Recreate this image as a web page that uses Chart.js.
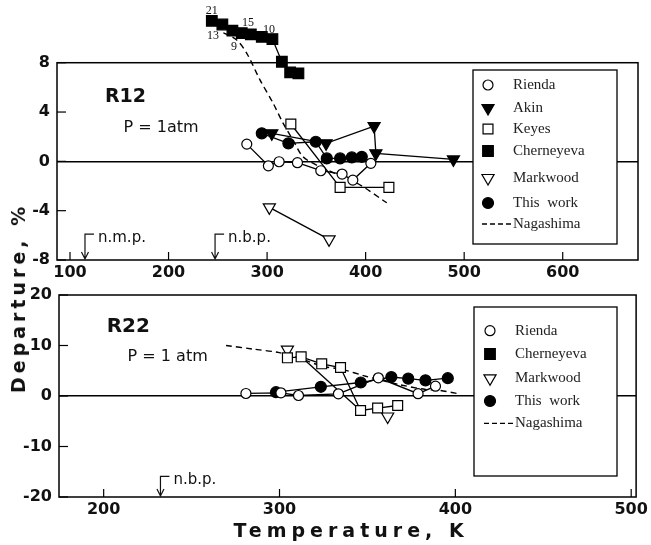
<!DOCTYPE html>
<html>
<head>
<meta charset="utf-8">
<script src="https://cdn.jsdelivr.net/npm/chart.js@4.4.1/dist/chart.umd.min.js"></script>
<style>
body { margin: 0; background: #fff; }
#wrap { position: relative; width: 651px; height: 545px; overflow: hidden; }
canvas { position: absolute; left: 0; }
.title { position: absolute; font-family: "DejaVu Sans"; font-weight: bold; white-space: nowrap; color: #111; }
#ytitle { left: 18px; top: 298px; font-size: 19px; letter-spacing: 4px; transform: translate(-50%, -50%) rotate(-90deg); }
#xtitle { left: 351px; top: 530px; font-size: 19px; letter-spacing: 5px; transform: translate(-50%, -50%); }
</style>
</head>
<body>
<div id="wrap">
	<canvas id="r12" width="651" height="290" style="top:0"></canvas>
	<canvas id="r22" width="651" height="263" style="top:282px"></canvas>
	<div class="title" id="ytitle">Departure, %</div>
	<div class="title" id="xtitle">Temperature, K</div>
</div>
<script>
// ---- R12 panel, [temperature K, departure %] ----
var r12Rienda = [[279.4,1.4],[301.3,-0.36],[312.2,-0.03],[330.8,-0.11],[354.5,-0.76],[376.1,-1.03],[387,-1.52],[405.3,-0.16]];
var r12Akin = [[304.8,2.27],[359.9,1.46],[408.6,2.86],[410.4,0.65],[489.1,0.16]];
var r12Keyes = [[324.1,3.03],[374.1,-2.11],[423.6,-2.11]];
var r12Cherneyeva = [[243.9,11.4],[254.6,11.1],[264.8,10.6],[274.3,10.4],[283.5,10.3],[294.6,10.1],[305.4,9.92],[315,8.08],[323.4,7.22],[331.8,7.14]];
var r12Markwood = [[302.3,-3.73],[362.9,-6.33]];
var r12ThisWork = [[294.6,2.27],[321.6,1.46],[349.4,1.59],[360.6,0.24],[374.1,0.24],[386,0.32],[396.1,0.37]];
var r12Nagashima = [[255.6,10.43],[269.2,9.84],[279.4,8.76],[292.9,6.59],[306.1,4.72],[316.2,3.1],[326.4,1.72],[336.5,0.37],[353.8,-0.44],[391.1,-1.76],[421.5,-3.36]];
var r12RunLabels = ['21','13','9','15','10'];
var r12RunAt = [[243.9,12.2],[245.2,10.16],[266.5,9.3],[280.7,11.24],[302,10.65]];
var r12XTicks = [100,200,300,400,500,600];
var r12YTicks = [-8,-4,0,4,8];

// ---- R22 panel ----
var r22Rienda = [[280.9,0.5],[300.8,0.63],[310.8,0.1],[333.5,0.44],[356.2,3.6],[378.8,0.46],[388.7,1.94]];
var r22Keyes = [[304.5,7.56],[312.3,7.76],[324,6.38],[334.7,5.64],[346.1,-2.87],[355.8,-2.38],[367.2,-1.88]];
var r22KeyesB = [[312.3,7.76],[346.1,-2.87]];
var r22Markwood = [[304.5,9.2],[361.5,-4.06]];
var r22ThisWork = [[298,0.75],[323.5,1.82],[346.2,2.67],[363.6,3.76],[373.2,3.43],[383,3.1],[395.7,3.52]];
var r22Nagashima = [[269.6,10.0],[284.7,9.3],[299.8,8.6],[312,7.4],[324.3,5.9],[335.7,5.25],[349,3.92],[367.9,2.28],[383,1.29],[390.6,1.15],[401,0.5]];
var r22XTicks = [200,300,400,500];
var r22YTicks = [-20,-10,0,10,20];

var SANS = '"DejaVu Sans"';
var SERIF = '"Liberation Serif"';

var marks = {
	'Rienda': { shape: 'circle', r: 5, fill: '#fff', rot: 0 },
	'Akin': { shape: 'triangle', r: 7, fill: '#000', rot: 180 },
	'Keyes': { shape: 'rect', r: 7, fill: '#fff', rot: 0 },
	'Cherneyeva': { shape: 'rect', r: 7.5, fill: '#000', rot: 0 },
	'Markwood': { shape: 'triangle', r: 7, fill: '#fff', rot: 180 },
	'This work': { shape: 'circle', r: 5.5, fill: '#000', rot: 0 }
};

function xy(arr)
{
	return arr.map(function (p) { return { x: p[0], y: p[1] }; });
}

function series(name, arr)
{
	var m = marks[name];
	return {
		label: name, data: xy(arr), showLine: true, clip: false,
		borderColor: '#000', borderWidth: 1.3,
		pointStyle: m.shape, pointRadius: m.r, pointRotation: m.rot,
		pointBackgroundColor: m.fill, pointBorderColor: '#000', pointBorderWidth: 1.2
	};
}

function dashed(name, arr)
{
	return {
		label: name, data: xy(arr), showLine: true, clip: false,
		borderColor: '#000', borderWidth: 1.4, borderDash: [6, 4],
		pointRadius: 0, tension: 0.3
	};
}

function plainLine(arr)
{
	return { label: '', data: xy(arr), showLine: true, clip: false, borderColor: '#000', borderWidth: 1.3, pointRadius: 0 };
}

function drawMark(ctx, m, x, y)
{
	ctx.save();
	ctx.beginPath();
	if (m.shape == 'circle') {
		ctx.arc(x, y, m.r, 0, Math.PI * 2);
	} else if (m.shape == 'rect') {
		var s = m.r * Math.SQRT1_2;
		ctx.rect(x - s, y - s, 2 * s, 2 * s);
	} else {
		ctx.moveTo(x, y + m.r);
		ctx.lineTo(x - m.r * 0.866, y - m.r * 0.5);
		ctx.lineTo(x + m.r * 0.866, y - m.r * 0.5);
		ctx.closePath();
	}
	ctx.fillStyle = m.fill;
	ctx.fill();
	ctx.lineWidth = 1.2;
	ctx.strokeStyle = '#000';
	ctx.stroke();
	ctx.restore();
}

// frame, inward ticks, boxed legend and notes
var panelPlugin = {
	id: 'panel',
	beforeDatasetsDraw: function (chart, args, opts) {
		var ctx = chart.ctx, a = chart.chartArea, sy = chart.scales.y;
		var top = opts.frameTop != null ? sy.getPixelForValue(opts.frameTop) : a.top;
		ctx.save();
		ctx.strokeStyle = '#000';
		ctx.lineWidth = 1.5;
		ctx.strokeRect(a.left, top, a.right - a.left, a.bottom - top);
		ctx.lineWidth = 1.2;
		chart.scales.x.ticks.forEach(function (t) {
			var px = chart.scales.x.getPixelForValue(t.value);
			ctx.beginPath(); ctx.moveTo(px, a.bottom); ctx.lineTo(px, a.bottom - 8); ctx.stroke();
		});
		sy.ticks.forEach(function (t) {
			var py = sy.getPixelForValue(t.value);
			ctx.beginPath(); ctx.moveTo(a.left, py); ctx.lineTo(a.left + 9, py); ctx.stroke();
		});
		ctx.restore();
	},
	afterDatasetsDraw: function (chart, args, opts) {
		var ctx = chart.ctx, b = opts.box;
		ctx.save();
		ctx.fillStyle = '#fff';
		ctx.fillRect(b[0], b[1], b[2] - b[0], b[3] - b[1]);
		ctx.strokeStyle = '#000';
		ctx.lineWidth = 1.3;
		ctx.strokeRect(b[0], b[1], b[2] - b[0], b[3] - b[1]);
		ctx.font = '15px ' + SERIF;
		ctx.fillStyle = '#222';
		ctx.textBaseline = 'middle';
		opts.keys.forEach(function (k, i) {
			var y = opts.rows[i];
			if (k == 'Nagashima') {
				ctx.save();
				ctx.setLineDash([5, 3]);
				ctx.lineWidth = 1.3;
				ctx.beginPath(); ctx.moveTo(opts.markX - 6, y); ctx.lineTo(opts.textX - 1, y); ctx.stroke();
				ctx.restore();
			} else {
				drawMark(ctx, marks[k], opts.markX, y);
			}
			ctx.fillText(k == 'This work' ? 'This  work' : k, opts.textX, y);
		});
		ctx.restore();
	},
	afterDraw: function (chart, args, opts) {
		var ctx = chart.ctx, sx = chart.scales.x, sy = chart.scales.y, a = chart.chartArea;
		ctx.save();
		ctx.fillStyle = '#111';
		ctx.strokeStyle = '#111';
		ctx.textBaseline = 'middle';
		(opts.notes || []).forEach(function (n) {
			ctx.font = n.font;
			ctx.textAlign = n.align || 'left';
			ctx.fillText(n.text, sx.getPixelForValue(n.x), sy.getPixelForValue(n.y));
		});
		(opts.arrows || []).forEach(function (n) {
			var px = sx.getPixelForValue(n.x), py = sy.getPixelForValue(n.y);
			ctx.lineWidth = 1.2;
			ctx.beginPath();
			ctx.moveTo(px + 9, py); ctx.lineTo(px, py); ctx.lineTo(px, a.bottom - 1);
			ctx.moveTo(px - 3.5, a.bottom - 8); ctx.lineTo(px, a.bottom - 1); ctx.lineTo(px + 3.5, a.bottom - 8);
			ctx.stroke();
			ctx.font = '15px ' + SANS;
			ctx.textAlign = 'left';
			ctx.fillText(n.text, px + 13, py + 4);
		});
		ctx.restore();
	}
};

function panel(id, cfg)
{
	return new Chart(document.getElementById(id), {
		type: 'scatter',
		data: { datasets: cfg.datasets },
		options: {
			responsive: false, animation: false, devicePixelRatio: 1, events: [],
			layout: { padding: cfg.pad, autoPadding: false },
			scales: {
				x: {
					type: 'linear', min: cfg.xmin, max: cfg.xmax,
					afterBuildTicks: function (s) { s.ticks = cfg.xticks.map(function (v) { return { value: v }; }); },
					afterFit: function (s) { s.height = cfg.xh; },
					grid: { display: false, drawTicks: false },
					border: { display: false },
					ticks: { padding: 3, color: '#111', font: { family: SANS, size: 16, weight: 'bold' } }
				},
				y: {
					type: 'linear', min: cfg.ymin, max: cfg.ymax,
					afterBuildTicks: function (s) { s.ticks = cfg.yticks.map(function (v) { return { value: v }; }); },
					// keep the chart area where the layout padding puts it
					afterFit: function (s) { s.width = cfg.yw; s.paddingTop = 0; s.paddingBottom = 0; },
					grid: {
						drawTicks: false, lineWidth: 1.4,
						color: function (c) { return c.tick && c.tick.value === 0 ? '#000' : 'rgba(0,0,0,0)'; }
					},
					border: { display: false },
					ticks: { padding: 7, color: '#111', font: { family: SANS, size: 16, weight: 'bold' } }
				}
			},
			plugins: {
				legend: { display: false },
				tooltip: { enabled: false },
				panel: cfg.panel
			}
		},
		plugins: [panelPlugin]
	});
}

var runNotes = r12RunLabels.map(function (t, i) {
	return { text: t, x: r12RunAt[i][0], y: r12RunAt[i][1], font: '12px ' + SERIF, align: 'center' };
});

// y range goes above 8 so the Cherneyeva points over the frame still get drawn
panel('r12', {
	datasets: [
		series('Rienda', r12Rienda), series('Akin', r12Akin), series('Keyes', r12Keyes),
		series('Cherneyeva', r12Cherneyeva), series('Markwood', r12Markwood),
		series('This work', r12ThisWork), dashed('Nagashima', r12Nagashima)
	],
	xmin: 86.8, xmax: 676.4, ymin: -8, ymax: 12.6,
	xticks: r12XTicks, yticks: r12YTicks,
	pad: { top: 6, right: 13, left: 0, bottom: 0 }, xh: 30, yw: 57,
	panel: {
		frameTop: 8,
		box: [473, 70, 617, 244], rows: [85, 108, 129, 151, 178, 203, 224], markX: 488, textX: 513,
		keys: ['Rienda', 'Akin', 'Keyes', 'Cherneyeva', 'Markwood', 'This work', 'Nagashima'],
		notes: runNotes.concat([
			{ text: 'R12', x: 135.5, y: 5.2, font: 'bold 19px ' + SANS },
			{ text: 'P = 1atm', x: 154.3, y: 2.7, font: '16px ' + SANS }
		]),
		arrows: [{ text: 'n.m.p.', x: 115.2, y: -5.9 }, { text: 'n.b.p.', x: 247.2, y: -5.9 }]
	}
});

panel('r22', {
	datasets: [
		series('Rienda', r22Rienda), series('Keyes', r22Keyes), plainLine(r22KeyesB),
		series('Cherneyeva', []),
		Object.assign(series('Markwood', r22Markwood), { showLine: false }),
		series('This work', r22ThisWork), dashed('Nagashima', r22Nagashima)
	],
	xmin: 174.6, xmax: 502.8, ymin: -20, ymax: 20,
	xticks: r22XTicks, yticks: r22YTicks,
	pad: { top: 13, right: 13, left: 0, bottom: 0 }, xh: 48, yw: 59,
	panel: {
		box: [474, 25, 617, 194], rows: [48.7, 72, 96.3, 119, 141.3], markX: 490, textX: 515,
		keys: ['Rienda', 'Cherneyeva', 'Markwood', 'This work', 'Nagashima'],
		notes: [
			{ text: 'R22', x: 201.7, y: 13.8, font: 'bold 20px ' + SANS },
			{ text: 'P = 1 atm', x: 213.6, y: 7.8, font: '16px ' + SANS }
		],
		arrows: [{ text: 'n.b.p.', x: 232.3, y: -15.9 }]
	}
});
</script>
</body>
</html>
